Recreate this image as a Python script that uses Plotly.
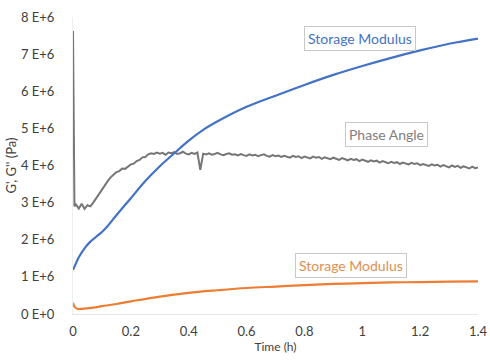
import plotly.graph_objects as go

# ---- data (values in units of 1E+6 Pa) ----
blue_t = [0, 0.01, 0.02, 0.04, 0.06, 0.08, 0.10, 0.12, 0.15, 0.20, 0.25, 0.30, 0.35,
          0.40, 0.45, 0.50, 0.60, 0.70, 0.80, 0.90, 1.00, 1.10, 1.20, 1.30, 1.40]
blue_v = [1.19, 1.36, 1.53, 1.77, 1.95, 2.08, 2.21, 2.37, 2.66, 3.12, 3.58, 3.98, 4.33,
          4.67, 4.96, 5.19, 5.58, 5.88, 6.17, 6.44, 6.68, 6.90, 7.10, 7.28, 7.42]

orange_t = [0, 0.005, 0.015, 0.03, 0.07, 0.10, 0.15, 0.20, 0.30, 0.40, 0.50, 0.60,
            0.70, 0.80, 0.90, 1.00, 1.10, 1.20, 1.30, 1.40]
orange_v = [0.30, 0.20, 0.14, 0.14, 0.17, 0.21, 0.27, 0.34, 0.47, 0.57, 0.64, 0.70,
            0.74, 0.78, 0.81, 0.83, 0.85, 0.86, 0.87, 0.88]

gray_t = [0, 0.005] + [round(0.01 * i, 2) for i in range(1, 141)]
gray_v = [7.62, 2.90,
          2.95, 2.84, 2.97, 2.83, 2.93, 2.90, 3.00, 3.12, 3.24, 3.36,
          3.48, 3.58, 3.68, 3.74, 3.82, 3.85, 3.92, 3.91, 3.98, 4.03,
          4.05, 4.12, 4.15, 4.22, 4.23,
          4.30, 4.33, 4.31, 4.35, 4.32, 4.34, 4.29, 4.35, 4.33, 4.36,
          4.31, 4.33, 4.37, 4.32, 4.30, 4.34, 4.31, 4.35, 3.88, 4.32,
          4.30, 4.33, 4.29, 4.31, 4.34, 4.30, 4.28, 4.31, 4.33, 4.29,
          4.30, 4.27, 4.31, 4.28, 4.26, 4.30, 4.27, 4.29, 4.25, 4.28,
          4.30, 4.26, 4.24, 4.28, 4.25, 4.27, 4.23, 4.26, 4.24, 4.21,
          4.26, 4.23, 4.25, 4.20, 4.24, 4.22, 4.19, 4.24, 4.21, 4.23,
          4.18, 4.22, 4.20, 4.17, 4.21, 4.19, 4.15, 4.20, 4.17, 4.14,
          4.18, 4.15, 4.17, 4.12, 4.16, 4.13, 4.10, 4.14, 4.11, 4.13,
          4.08, 4.12, 4.09, 4.06, 4.10, 4.07, 4.09, 4.04, 4.08, 4.05,
          4.03, 4.07, 4.04, 4.06, 4.01, 4.04, 4.02, 3.99, 4.03, 4.00,
          4.02, 3.97, 4.01, 3.98, 3.95, 4.00, 3.96, 3.99, 3.94, 3.98,
          3.95, 3.92, 3.97, 3.93, 3.95]

y_tickvals = [0, 1, 2, 3, 4, 5, 6, 7, 8]
y_ticktext = ["0 E+0", "1 E+6", "2 E+6", "3 E+6", "4 E+6", "5 E+6", "6 E+6", "7 E+6", "8 E+6"]
x_tickvals = [0, 0.2, 0.4, 0.6, 0.8, 1.0, 1.2, 1.4]
x_ticktext = ["0", "0.2", "0.4", "0.6", "0.8", "1", "1.2", "1.4"]

SCALE = 1e6
FONT = "Lato, 'Open Sans', sans-serif"

fig = go.Figure()
fig.add_trace(go.Scatter(x=gray_t, y=[v * SCALE for v in gray_v], mode="lines",
                         line=dict(color="#767676", width=2), name="Phase Angle"))
fig.add_trace(go.Scatter(x=blue_t, y=[v * SCALE for v in blue_v], mode="lines",
                         line=dict(color="#4472C4", width=2.2, shape="spline"), name="Storage Modulus"))
fig.add_trace(go.Scatter(x=orange_t, y=[v * SCALE for v in orange_v], mode="lines",
                         line=dict(color="#ED7D31", width=2.2, shape="spline"), name="Storage Modulus 2"))

fig.update_layout(
    width=490, height=362,
    margin=dict(l=73, r=12, t=17, b=48),
    paper_bgcolor="white", plot_bgcolor="white",
    showlegend=False,
    font=dict(family=FONT, size=13, color="#404040"),
)
fig.update_xaxes(range=[0, 1.4], tickvals=x_tickvals, ticktext=x_ticktext, automargin=False,
                 showgrid=False, zeroline=False, showline=True, linecolor="#e6e6e6",
                 linewidth=1, ticks="", ticklabelstandoff=5,
                 title=dict(text="Time (h)", standoff=0, font=dict(size=12)))
fig.update_yaxes(range=[0, 8 * SCALE], tickvals=[v * SCALE for v in y_tickvals], ticktext=y_ticktext,
                 automargin=False,
                 showgrid=False, zeroline=False, showline=True, linecolor="#efefef",
                 linewidth=1, ticks="", ticklabelstandoff=15,
                 title=dict(text="G', G'' (Pa)", standoff=1, font=dict(size=13)))

base = dict(xref="paper", yref="paper", showarrow=False, bgcolor="white",
            bordercolor="#c8c8c8", borderwidth=1, borderpad=3,
            xanchor="center", yanchor="middle")
fig.add_annotation(text="Storage Modulus", x=0.709, y=0.926,
                   font=dict(family=FONT, size=14, color="#4472C4"), **base)
fig.add_annotation(text="Phase Angle", x=0.775, y=0.603,
                   font=dict(family=FONT, size=14, color="#808080"), **base)
fig.add_annotation(text="Storage Modulus", x=0.686, y=0.162,
                   font=dict(family=FONT, size=14, color="#E0904F"), **base)

fig.write_html("out.html")
